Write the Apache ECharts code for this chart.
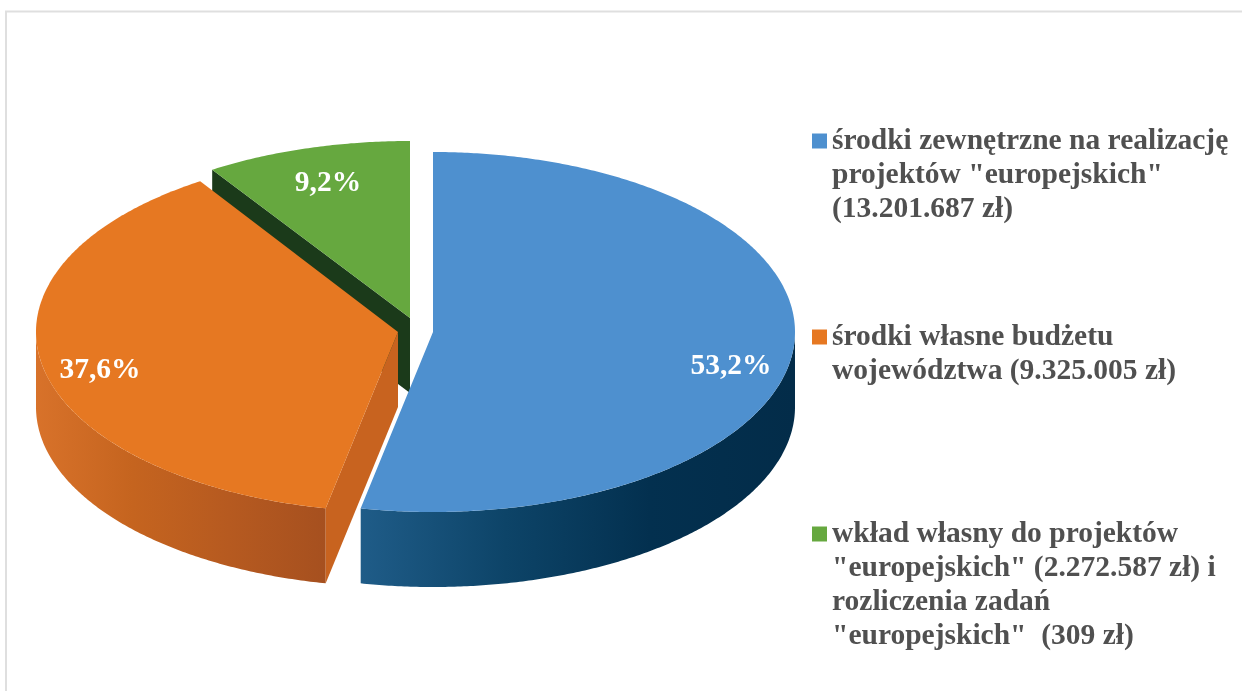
<!DOCTYPE html>
<html><head><meta charset="utf-8">
<style>html,body{margin:0;padding:0;background:#fff}#c{width:1242px;height:691px}</style>
<script src="https://cdn.jsdelivr.net/npm/echarts@6/dist/echarts.min.js"></script></head>
<body><div id="c"></div>
<script>
const names = [
  'środki zewnętrzne na realizację\nprojektów "europejskich"\n(13.201.687 zł)',
  'środki własne budżetu\nwojewództwa (9.325.005 zł)',
  'wkład własny do projektów\n"europejskich" (2.272.587 zł) i\nrozliczenia zadań\n"europejskich"  (309 zł)'
];
const shares = [53.2, 37.6, 9.2];
const topColors = ['#4e90cf', '#e67822', '#66a83f'];

const RX = 362, RYS = [180, 180, 177], DEPTH = 75;
const apex = [[433, 332], [398, 332], [410, 318]];
const labelAt = [[731, 366], [100, 370], [328, 183]];
const legendCenter = [141, 337, 534];
const lineH = 34;
const FONT = '"Liberation Serif"';

const total = shares.reduce((a, b) => a + b, 0);
function startAngle(i) { let s = 0; for (let k = 0; k < i; k++) s += shares[k]; return s / total * 360; }
function pt(c, ry, deg) { const r = deg * Math.PI / 180; return [c[0] + RX * Math.sin(r), c[1] - ry * Math.cos(r)]; }
function arc(c, ry, a, b) { const p = []; const n = Math.max(2, Math.ceil(Math.abs(b - a) * 2)); for (let i = 0; i <= n; i++) p.push(pt(c, ry, a + (b - a) * i / n)); return p; }
function down(p) { return [p[0], p[1] + DEPTH]; }
const grad = (stops) => new echarts.graphic.LinearGradient(0, 0, 1, 0, stops.map((c, i) => ({ offset: i / (stops.length - 1), color: c })));

function render(i) {
  return function (params, api) {
    const v = api.value(0);
    const a = startAngle(i), b = a + v / total * 360, c = apex[i], ry = RYS[i];
    const kids = [];
    const poly = (points, fill) => kids.push({ type: 'polygon', shape: { points }, style: { fill } });
    if (i === 0) {
      const rim = arc(c, ry, 90, b);
      poly(rim.concat(rim.slice().reverse().map(down)), grad(['#1f5c88', '#0d4468', '#03304f', '#032c49']));
    }
    if (i === 1) {
      const rim = arc(c, ry, a, 270);
      const pa = pt(c, ry, a);
      poly(rim.concat(rim.slice().reverse().map(down)), grad(['#d8722a', '#c5641f', '#b65a20', '#a6501f']));
      poly([c, pa, down(pa), down(c)], '#c8631f');
    }
    if (i === 2) {
      const pa = pt(c, ry, a);
      poly([c, pa, down(pa), down(c)], '#1b3a1a');
    }
    poly([c].concat(arc(c, ry, a, b)), topColors[i]);
    kids.push({
      type: 'text',
      style: {
        text: v.toFixed(1).replace('.', ',') + '%', x: labelAt[i][0], y: labelAt[i][1],
        fill: '#fff', font: 'bold 29.5px ' + FONT, align: 'center', verticalAlign: 'middle'
      }
    });
    return { type: 'group', children: kids };
  };
}

const chart = echarts.init(document.getElementById('c'), null, { renderer: 'canvas' });
chart.setOption({
  animation: false,
  backgroundColor: '#fff',
  tooltip: { show: false },
  graphic: [{
    type: 'rect', silent: true, z: 0,
    shape: { x: 6, y: 11.5, width: 1300, height: 800 },
    style: { fill: '#fff', stroke: '#dfdfdf', lineWidth: 2 }
  }],
  legend: names.map((n, i) => {
    const lines = n.split('\n').length;
    const boxLines = 2 * lines - 1;
    return {
      data: [n], orient: 'vertical', left: 812, top: legendCenter[i] - boxLines * lineH / 2, padding: 0,
      itemWidth: 15, itemHeight: 15, icon: 'rect', selectedMode: false,
      formatter: (t) => '\n'.repeat(lines - 1) + t,
      textStyle: { fontFamily: FONT, fontWeight: 'bold', fontSize: 29.5, color: '#505050', lineHeight: lineH }
    };
  }),
  series: names.map((n, i) => ({
    type: 'custom', name: n, coordinateSystem: 'none', silent: true,
    z: 4 - i, itemStyle: { color: topColors[i] },
    data: [[shares[i]]], renderItem: render(i)
  }))
});
</script></body></html>
